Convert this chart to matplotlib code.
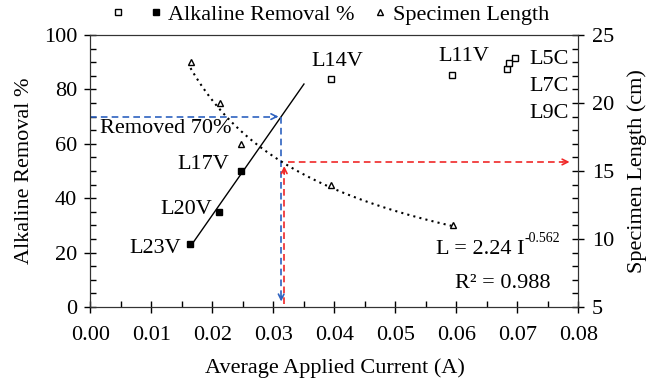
import numpy as np
import matplotlib.pyplot as plt
from matplotlib.ticker import MultipleLocator, FormatStrFormatter
from matplotlib.lines import Line2D

plt.rcParams['font.family'] = ['Liberation Serif', 'DejaVu Serif']

# Alkaline removal (left axis)
fit_current = [0.0163, 0.0211, 0.0246]          # L23V, L20V, L17V
fit_removal = [23, 35, 50]
other_current = [0.0394, 0.0593, 0.0683, 0.0686, 0.0696]   # L14V, L11V, L9C, L7C, L5C
other_removal = [84, 85.4, 87.5, 89.6, 91.4]

# Specimen length (right axis)
len_current = [0.0164, 0.0212, 0.0246, 0.0394, 0.0594]
spec_length = [23, 20, 17, 14, 11]

# power law L = 2.24 I^-0.562
pl_a, pl_b = 2.24, -0.562
target = 70

fig = plt.figure(figsize=(6.58, 3.83), dpi=100)
ax = fig.add_axes([0.1375, 0.1984, 0.7416, 0.7102])
ax2 = ax.twinx()

ax.set_xlim(0, 0.08)
ax.set_ylim(0, 100)
ax2.set_ylim(5, 25)

# linear fit for the voltage-controlled specimens
m, b = np.polyfit(fit_current, fit_removal, 1)
xl = np.array([fit_current[0], 0.0350])
ax.plot(xl, m * xl + b, color='black', lw=1)
ax.plot(fit_current, fit_removal, 's', color='black', ms=5, zorder=5)
ax.plot(other_current, other_removal, 's', mfc='white', mec='black', mew=1, ms=5, zorder=5)

# power fit for specimen length
xp = np.linspace(len_current[0], len_current[-1], 100)
ax2.plot(xp, pl_a * xp ** pl_b, color='black', ls=(0, (1, 2)), lw=1.5)
ax2.plot(len_current, spec_length, '^', mfc='white', mec='black', mew=1, ms=5, zorder=5)

# 70 % removal construction lines
x70 = (target - b) / m
blue = '#2E62C0'
red = '#F02828'
dash = (0, (4, 2.5))
ax.plot([0, x70 - 0.0008], [target, target], color=blue, ls=dash, lw=1.2)
ax.plot([x70, x70], [target, 2.5], color=blue, ls=dash, lw=1.2)
ax.annotate('', xy=(x70, target), xytext=(x70 - 0.0015, target),
            arrowprops=dict(arrowstyle='->', color=blue, lw=1.2))
ax.annotate('', xy=(x70, 1.0), xytext=(x70, 5),
            arrowprops=dict(arrowstyle='->', color=blue, lw=1.2))

xr = x70 + 0.0005
L70 = pl_a * xr ** pl_b
ax2.plot([xr, xr], [5.2, L70 - 0.5], color=red, ls=dash, lw=1.2)
ax2.plot([xr + 0.0006, 0.0775], [L70 + 0.1, L70 + 0.1], color=red, ls=dash, lw=1.2)
ax2.annotate('', xy=(xr, L70), xytext=(xr, L70 - 1.0),
             arrowprops=dict(arrowstyle='->', color=red, lw=1.2))
ax2.annotate('', xy=(0.0790, L70 + 0.1), xytext=(0.0770, L70 + 0.1),
             arrowprops=dict(arrowstyle='->', color=red, lw=1.2))

fs = 16
ax.text(0.0016, 65.6, 'Removed 70%', fontsize=fs, va='center', ha='left')
ax.text(0.0228, 52.5, 'L17V', fontsize=fs, va='center', ha='right')
ax.text(0.0200, 36, 'L20V', fontsize=fs, va='center', ha='right')
ax.text(0.0148, 21.4, 'L23V', fontsize=fs, va='center', ha='right')
ax.text(0.0405, 90.4, 'L14V', fontsize=fs, va='center', ha='center')
ax.text(0.0612, 92, 'L11V', fontsize=fs, va='center', ha='center')
ax.text(0.0784, 91, 'L5C', fontsize=fs, va='center', ha='right')
ax.text(0.0784, 80.9, 'L7C', fontsize=fs, va='center', ha='right')
ax.text(0.0784, 71.3, 'L9C', fontsize=fs, va='center', ha='right')
eq = ax.text(0.0566, 21, 'L = 2.24 I', fontsize=fs, va='center', ha='left')
ax.annotate('-0.562', xy=(1, 0.78), xycoords=eq, fontsize=10, va='bottom', ha='left')
ax.text(0.0755, 8.8, 'R\u00b2 = 0.988', fontsize=fs, va='center', ha='right')

ax.set_xlabel('Average Applied Current (A)', fontsize=fs, va='center')
ax.set_ylabel('Alkaline Removal %', fontsize=fs, va='center')
ax2.set_ylabel('Specimen Length (cm)', fontsize=fs, va='center')
ax.xaxis.set_label_coords(0.5, -0.224)
ax.yaxis.set_label_coords(-0.135, 0.5)
ax2.yaxis.set_label_coords(1.12, 0.5)

ax.xaxis.set_major_locator(MultipleLocator(0.01))
ax.xaxis.set_minor_locator(MultipleLocator(0.005))
ax.yaxis.set_major_locator(MultipleLocator(20))
ax.yaxis.set_minor_locator(MultipleLocator(5))
ax2.yaxis.set_major_locator(MultipleLocator(5))
ax2.yaxis.set_minor_locator(MultipleLocator(1))
ax.xaxis.set_major_formatter(FormatStrFormatter('%.2f'))

ax.tick_params(axis='both', which='major', direction='inout', length=9, width=1, labelsize=fs)
ax.tick_params(axis='both', which='minor', direction='in', length=4, width=1)
ax.tick_params(axis='x', which='major', pad=9)
ax.tick_params(axis='y', which='major', pad=5)
ax.tick_params(axis='y', right=False)
ax2.tick_params(axis='y', which='major', direction='inout', length=9, width=1, labelsize=fs, pad=5)
ax2.tick_params(axis='y', which='minor', direction='in', length=4, width=1)
for a in (ax, ax2):
    for s in a.spines.values():
        s.set_color('#333333')

# legend: open + filled squares share one label, then the triangle
h_open = Line2D([], [], marker='s', mfc='white', mec='black', ls='none', ms=5)
h_fill = Line2D([], [], marker='s', color='black', ls='none', ms=5)
h_tri = Line2D([], [], marker='^', mfc='white', mec='black', ls='none', ms=5)
fig.legend([h_open, h_fill, h_tri], ['', 'Alkaline Removal %', 'Specimen Length'],
           loc='center', bbox_to_anchor=(0.502, 0.962), ncol=3, frameon=False,
           fontsize=fs, handletextpad=0.25, columnspacing=0.85, handlelength=0.6,
           borderpad=0.2)

fig.savefig('out.png', dpi=100)
